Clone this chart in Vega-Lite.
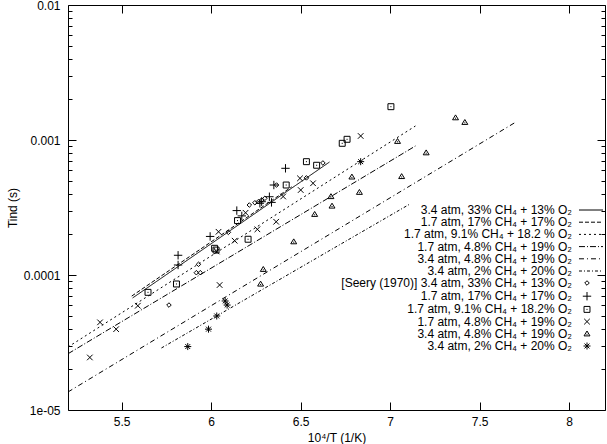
{
  "$schema": "https://vega.github.io/schema/vega-lite/v6.json",
  "width": 537,
  "height": 405,
  "autosize": {"type": "none"},
  "padding": {"left": 68, "top": 5, "right": 2, "bottom": 34},
  "config": {
    "font": "Liberation Sans",
    "view": {"stroke": "black", "strokeWidth": 1},
    "axis": {"domain": false, "grid": false, "labelFont": "Liberation Sans", "labelFontSize": 12, "labelColor": "black", "tickColor": "black", "tickWidth": 1, "titleFont": "Liberation Sans", "titleFontSize": 12, "titleFontWeight": "normal", "titleColor": "black", "labelOverlap": false, "labelFlush": false},
    "legend": {"labelFont": "Liberation Sans", "labelFontSize": 12, "labelColor": "black", "padding": 0, "labelLimit": 400, "rowPadding": 0.2, "symbolStrokeColor": "black", "symbolStrokeWidth": 1}
  },
  "datasets": {
    "lines": [
      {"line": "3.4 atm, 33% CH₄ + 13% O₂", "x": 5.561, "t": 6.76e-5},
      {"line": "3.4 atm, 33% CH₄ + 13% O₂", "x": 6.661, "t": 6.87e-4},
      {"line": "1.7 atm, 17% CH₄ + 17% O₂", "x": 5.556, "t": 6.98e-5},
      {"line": "1.7 atm, 17% CH₄ + 17% O₂", "x": 6.45, "t": 4.5e-4},
      {"line": "1.7 atm, 9.1% CH₄ + 18.2 % O₂", "x": 5.2, "t": 2.93e-5},
      {"line": "1.7 atm, 9.1% CH₄ + 18.2 % O₂", "x": 7.141, "t": 1.27e-3},
      {"line": "1.7 atm, 4.8% CH₄ + 19% O₂", "x": 5.2, "t": 2.61e-5},
      {"line": "1.7 atm, 4.8% CH₄ + 19% O₂", "x": 7.141, "t": 9.03e-4},
      {"line": "3.4 atm, 4.8% CH₄ + 19% O₂", "x": 5.2, "t": 1.36e-5},
      {"line": "3.4 atm, 4.8% CH₄ + 19% O₂", "x": 7.693, "t": 1.336e-3},
      {"line": "3.4 atm, 2% CH₄ + 20% O₂", "x": 5.722, "t": 2.88e-5},
      {"line": "3.4 atm, 2% CH₄ + 20% O₂", "x": 7.111, "t": 3.36e-4}
    ],
    "points": [
      {"pts": "[Seery (1970)] 3.4 atm, 33% CH₄ + 13% O₂", "x": 5.764, "t": 5.99e-5},
      {"pts": "[Seery (1970)] 3.4 atm, 33% CH₄ + 13% O₂", "x": 5.917, "t": 1.04e-4},
      {"pts": "[Seery (1970)] 3.4 atm, 33% CH₄ + 13% O₂", "x": 5.939, "t": 1.04e-4},
      {"pts": "[Seery (1970)] 3.4 atm, 33% CH₄ + 13% O₂", "x": 5.929, "t": 1.2e-4},
      {"pts": "[Seery (1970)] 3.4 atm, 33% CH₄ + 13% O₂", "x": 6.096, "t": 2.07e-4},
      {"pts": "[Seery (1970)] 3.4 atm, 33% CH₄ + 13% O₂", "x": 6.213, "t": 3.3e-4},
      {"pts": "[Seery (1970)] 3.4 atm, 33% CH₄ + 13% O₂", "x": 6.244, "t": 3.43e-4},
      {"pts": "[Seery (1970)] 3.4 atm, 33% CH₄ + 13% O₂", "x": 6.263, "t": 3.49e-4},
      {"pts": "[Seery (1970)] 3.4 atm, 33% CH₄ + 13% O₂", "x": 6.282, "t": 3.59e-4},
      {"pts": "[Seery (1970)] 3.4 atm, 33% CH₄ + 13% O₂", "x": 6.3, "t": 3.7e-4},
      {"pts": "[Seery (1970)] 3.4 atm, 33% CH₄ + 13% O₂", "x": 6.365, "t": 4.64e-4},
      {"pts": "[Seery (1970)] 3.4 atm, 33% CH₄ + 13% O₂", "x": 6.532, "t": 5.24e-4},
      {"pts": "[Seery (1970)] 3.4 atm, 33% CH₄ + 13% O₂", "x": 6.624, "t": 6.76e-4},
      {"pts": "1.7 atm, 17% CH₄ + 17% O₂", "x": 5.815, "t": 1.186e-4},
      {"pts": "1.7 atm, 17% CH₄ + 17% O₂", "x": 5.815, "t": 1.4e-4},
      {"pts": "1.7 atm, 17% CH₄ + 17% O₂", "x": 5.994, "t": 1.93e-4},
      {"pts": "1.7 atm, 17% CH₄ + 17% O₂", "x": 6.143, "t": 3.0e-4},
      {"pts": "1.7 atm, 17% CH₄ + 17% O₂", "x": 6.171, "t": 2.74e-4},
      {"pts": "1.7 atm, 17% CH₄ + 17% O₂", "x": 6.272, "t": 3.4e-4},
      {"pts": "1.7 atm, 17% CH₄ + 17% O₂", "x": 6.282, "t": 3.49e-4},
      {"pts": "1.7 atm, 17% CH₄ + 17% O₂", "x": 6.325, "t": 3.8e-4},
      {"pts": "1.7 atm, 17% CH₄ + 17% O₂", "x": 6.337, "t": 3.45e-4},
      {"pts": "1.7 atm, 17% CH₄ + 17% O₂", "x": 6.35, "t": 4.64e-4},
      {"pts": "1.7 atm, 17% CH₄ + 17% O₂", "x": 6.415, "t": 6.17e-4},
      {"pts": "1.7 atm, 9.1% CH₄ + 18.2% O₂", "x": 5.647, "t": 7.44e-5},
      {"pts": "1.7 atm, 9.1% CH₄ + 18.2% O₂", "x": 5.806, "t": 8.58e-5},
      {"pts": "1.7 atm, 9.1% CH₄ + 18.2% O₂", "x": 6.019, "t": 1.577e-4},
      {"pts": "1.7 atm, 9.1% CH₄ + 18.2% O₂", "x": 6.027, "t": 1.53e-4},
      {"pts": "1.7 atm, 9.1% CH₄ + 18.2% O₂", "x": 6.147, "t": 2.53e-4},
      {"pts": "1.7 atm, 9.1% CH₄ + 18.2% O₂", "x": 6.206, "t": 1.84e-4},
      {"pts": "1.7 atm, 9.1% CH₄ + 18.2% O₂", "x": 6.419, "t": 4.64e-4},
      {"pts": "1.7 atm, 9.1% CH₄ + 18.2% O₂", "x": 6.532, "t": 6.91e-4},
      {"pts": "1.7 atm, 9.1% CH₄ + 18.2% O₂", "x": 6.589, "t": 6.5e-4},
      {"pts": "1.7 atm, 9.1% CH₄ + 18.2% O₂", "x": 6.732, "t": 9.45e-4},
      {"pts": "1.7 atm, 9.1% CH₄ + 18.2% O₂", "x": 6.759, "t": 1.012e-3},
      {"pts": "1.7 atm, 9.1% CH₄ + 18.2% O₂", "x": 7.004, "t": 1.765e-3},
      {"pts": "1.7 atm, 4.8% CH₄ + 19% O₂", "x": 5.322, "t": 2.45e-5},
      {"pts": "1.7 atm, 4.8% CH₄ + 19% O₂", "x": 5.379, "t": 4.46e-5},
      {"pts": "1.7 atm, 4.8% CH₄ + 19% O₂", "x": 5.469, "t": 3.97e-5},
      {"pts": "1.7 atm, 4.8% CH₄ + 19% O₂", "x": 5.59, "t": 5.92e-5},
      {"pts": "1.7 atm, 4.8% CH₄ + 19% O₂", "x": 6.031, "t": 1.493e-4},
      {"pts": "1.7 atm, 4.8% CH₄ + 19% O₂", "x": 6.041, "t": 2.09e-4},
      {"pts": "1.7 atm, 4.8% CH₄ + 19% O₂", "x": 6.047, "t": 8.43e-5},
      {"pts": "1.7 atm, 4.8% CH₄ + 19% O₂", "x": 6.131, "t": 1.795e-4},
      {"pts": "1.7 atm, 4.8% CH₄ + 19% O₂", "x": 6.192, "t": 2.89e-4},
      {"pts": "1.7 atm, 4.8% CH₄ + 19% O₂", "x": 6.258, "t": 2.18e-4},
      {"pts": "1.7 atm, 4.8% CH₄ + 19% O₂", "x": 6.363, "t": 2.48e-4},
      {"pts": "1.7 atm, 4.8% CH₄ + 19% O₂", "x": 6.402, "t": 3.815e-4},
      {"pts": "1.7 atm, 4.8% CH₄ + 19% O₂", "x": 6.496, "t": 5.2e-4},
      {"pts": "1.7 atm, 4.8% CH₄ + 19% O₂", "x": 6.5, "t": 4.26e-4},
      {"pts": "1.7 atm, 4.8% CH₄ + 19% O₂", "x": 6.569, "t": 4.78e-4},
      {"pts": "1.7 atm, 4.8% CH₄ + 19% O₂", "x": 6.835, "t": 1.071e-3},
      {"pts": "3.4 atm, 4.8% CH₄ + 19% O₂", "x": 6.276, "t": 8.58e-5},
      {"pts": "3.4 atm, 4.8% CH₄ + 19% O₂", "x": 6.291, "t": 1.102e-4},
      {"pts": "3.4 atm, 4.8% CH₄ + 19% O₂", "x": 6.461, "t": 1.765e-4},
      {"pts": "3.4 atm, 4.8% CH₄ + 19% O₂", "x": 6.578, "t": 2.816e-4},
      {"pts": "3.4 atm, 4.8% CH₄ + 19% O₂", "x": 6.669, "t": 3.815e-4},
      {"pts": "3.4 atm, 4.8% CH₄ + 19% O₂", "x": 6.675, "t": 3.245e-4},
      {"pts": "3.4 atm, 4.8% CH₄ + 19% O₂", "x": 6.786, "t": 5.33e-4},
      {"pts": "3.4 atm, 4.8% CH₄ + 19% O₂", "x": 6.828, "t": 4.1e-4},
      {"pts": "3.4 atm, 4.8% CH₄ + 19% O₂", "x": 7.041, "t": 9.78e-4},
      {"pts": "3.4 atm, 4.8% CH₄ + 19% O₂", "x": 7.064, "t": 5.37e-4},
      {"pts": "3.4 atm, 4.8% CH₄ + 19% O₂", "x": 7.201, "t": 8.05e-4},
      {"pts": "3.4 atm, 4.8% CH₄ + 19% O₂", "x": 7.365, "t": 1.463e-3},
      {"pts": "3.4 atm, 4.8% CH₄ + 19% O₂", "x": 7.417, "t": 1.352e-3},
      {"pts": "3.4 atm, 2% CH₄ + 20% O₂", "x": 5.869, "t": 2.95e-5},
      {"pts": "3.4 atm, 2% CH₄ + 20% O₂", "x": 5.985, "t": 3.97e-5},
      {"pts": "3.4 atm, 2% CH₄ + 20% O₂", "x": 6.031, "t": 4.97e-5},
      {"pts": "3.4 atm, 2% CH₄ + 20% O₂", "x": 6.078, "t": 6.42e-5},
      {"pts": "3.4 atm, 2% CH₄ + 20% O₂", "x": 6.089, "t": 5.99e-5},
      {"pts": "3.4 atm, 2% CH₄ + 20% O₂", "x": 6.835, "t": 6.91e-4}
    ]
  },
  "layer": [
    {
      "data": {"name": "lines"},
      "mark": {"type": "line", "color": "black", "strokeWidth": 1, "clip": true},
      "encoding": {
        "x": {"field": "x", "type": "quantitative", "scale": {"domain": [5.2, 8.2], "nice": false, "zero": false},
              "axis": {"orient": "bottom", "values": [5.5, 6, 6.5, 7, 7.5, 8], "format": "~g", "tickSize": -8, "labelPadding": 14, "title": "10⁴/T  (1/K)", "titlePadding": 5}},
        "y": {"field": "t", "type": "quantitative", "scale": {"type": "log", "domain": [1e-5, 0.01], "nice": false},
              "axis": {"orient": "left",
                       "values": [1e-5, 2e-5, 3e-5, 4e-5, 5e-5, 6e-5, 7e-5, 8e-5, 9e-5, 1e-4, 2e-4, 3e-4, 4e-4, 5e-4, 6e-4, 7e-4, 8e-4, 9e-4, 1e-3, 2e-3, 3e-3, 4e-3, 5e-3, 6e-3, 7e-3, 8e-3, 9e-3, 1e-2],
                       "tickSize": {"condition": {"test": "abs(log(datum.value)/LN10 - round(log(datum.value)/LN10)) < 0.001", "value": -8}, "value": -4},
                       "labelPadding": 16,
                       "labelExpr": "datum.value > 0.0099 ? '0.01' : (datum.value > 0.00099 && datum.value < 0.00101) ? '0.001' : (datum.value > 0.000099 && datum.value < 0.000101) ? '0.0001' : datum.value < 0.0000101 ? '1e-05' : ''",
                       "title": "Tind (s)", "titlePadding": 4}},
        "strokeDash": {"field": "line", "type": "nominal",
                       "scale": {"domain": ["3.4 atm, 33% CH₄ + 13% O₂", "1.7 atm, 17% CH₄ + 17% O₂", "1.7 atm, 9.1% CH₄ + 18.2 % O₂", "1.7 atm, 4.8% CH₄ + 19% O₂", "3.4 atm, 4.8% CH₄ + 19% O₂", "3.4 atm, 2% CH₄ + 20% O₂"],
                                 "range": [[1, 0], [4, 2], [2, 3], [6, 2, 1, 2], [5, 3, 1, 3], [3, 2, 1, 2]]},
                       "legend": {"title": null, "orient": "none", "legendX": 517, "legendY": 199, "symbolType": "M-3.43,0H3.43", "symbolSize": 49, "symbolFillColor": "transparent", "symbolStrokeColor": "black", "symbolOpacity": 1, "labelAlign": "right", "labelOffset": -25}}
      }
    },
    {
      "data": {"name": "points"},
      "mark": {"type": "point", "filled": false, "color": "black", "strokeWidth": 1, "size": 49, "opacity": 1},
      "encoding": {
        "x": {"field": "x", "type": "quantitative", "scale": {"domain": [5.2, 8.2], "nice": false, "zero": false},
              "axis": {"orient": "top", "values": [5.5, 6, 6.5, 7, 7.5, 8], "tickSize": -8, "labels": false, "title": null}},
        "y": {"field": "t", "type": "quantitative", "scale": {"type": "log", "domain": [1e-5, 0.01], "nice": false},
              "axis": {"orient": "right",
                       "values": [1e-5, 2e-5, 3e-5, 4e-5, 5e-5, 6e-5, 7e-5, 8e-5, 9e-5, 1e-4, 2e-4, 3e-4, 4e-4, 5e-4, 6e-4, 7e-4, 8e-4, 9e-4, 1e-3, 2e-3, 3e-3, 4e-3, 5e-3, 6e-3, 7e-3, 8e-3, 9e-3, 1e-2],
                       "tickSize": {"condition": {"test": "abs(log(datum.value)/LN10 - round(log(datum.value)/LN10)) < 0.001", "value": -8}, "value": -4},
                       "labels": false, "title": null}},
        "shape": {"field": "pts", "type": "nominal",
                  "scale": {"domain": ["[Seery (1970)] 3.4 atm, 33% CH₄ + 13% O₂", "1.7 atm, 17% CH₄ + 17% O₂", "1.7 atm, 9.1% CH₄ + 18.2% O₂", "1.7 atm, 4.8% CH₄ + 19% O₂", "3.4 atm, 4.8% CH₄ + 19% O₂", "3.4 atm, 2% CH₄ + 20% O₂"],
                            "range": ["M0,-0.65L0.65,0L0,0.65L-0.65,0Z", "M-1.2,0L1.2,0M0,-1.2L0,1.2", "M-0.85,-0.85H0.85V0.85H-0.85ZM-0.15,0H0.15", "M-0.8,-0.8L0.8,0.8M-0.8,0.8L0.8,-0.8", "M0,-0.8L0.85,0.6L-0.85,0.6ZM-0.15,0.15H0.15", "M-1,0L1,0M0,-1L0,1M-0.7,-0.7L0.7,0.7M-0.7,0.7L0.7,-0.7"]},
                  "legend": {"title": null, "orient": "none", "legendX": 513, "legendY": 272, "symbolSize": 49, "symbolFillColor": "transparent", "symbolStrokeColor": "black", "symbolOpacity": 1, "labelAlign": "right", "labelOffset": -21}}
      }
    }
  ],
  "resolve": {"axis": {"x": "independent", "y": "independent"}}
}
